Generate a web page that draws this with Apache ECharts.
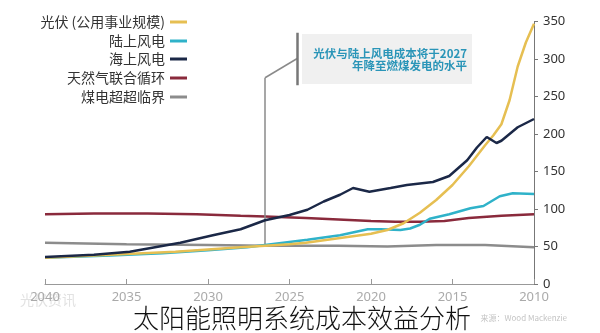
<!DOCTYPE html>
<html>
<head>
<meta charset="utf-8">
<script src="https://cdn.jsdelivr.net/npm/echarts@6/dist/echarts.min.js"></script>
<style>html,body{margin:0;padding:0;background:#fff;}#c{width:600px;height:333px;}</style>
</head>
<body>
<div id="c"></div>
<script>
// ---- data ----
const seriesNames = ['光伏 (公用事业规模)', '陆上风电', '海上风电', '天然气联合循环', '煤电超超临界'];
const xTicks = [2010, 2015, 2020, 2025, 2030, 2035, 2040];
const yTicks = [0, 50, 100, 150, 200, 250, 300, 350];

const solarYears  = [2010, 2010.5, 2011, 2011.5, 2012, 2012.5, 2013, 2014, 2015, 2016, 2017, 2018, 2019, 2020, 2021, 2022, 2023, 2024, 2025, 2026.5, 2028, 2030, 2032, 2034, 2036, 2038, 2040];
const solarValues = [347, 322, 290, 245, 213, 198, 185, 157, 132, 112, 95, 81, 72, 67, 64, 61, 58, 55, 53, 51, 49, 46, 43, 41, 39, 37, 35];

const onshoreYears  = [2010, 2011.3, 2012.1, 2013.1, 2013.9, 2015.2, 2016.4, 2017, 2017.6, 2018.2, 2019.4, 2020.2, 2021.9, 2023.9, 2026.5, 2027.6, 2030, 2032.8, 2036, 2040];
const onshoreValues = [120, 121, 117, 104, 101, 93, 87, 79, 74, 72, 73, 73, 65, 59, 52, 49, 45, 41, 38, 35];

const offshoreYears  = [2010, 2011, 2012, 2012.3, 2012.9, 2013.5, 2014.1, 2015.2, 2016.2, 2017.8, 2018.8, 2020.1, 2021.1, 2021.9, 2022.9, 2023.9, 2025, 2026.5, 2028, 2029.7, 2031.7, 2034.8, 2037, 2040];
const offshoreValues = [220, 209, 191, 188, 196, 182, 165, 144, 136, 132, 128, 123, 128, 119, 110, 99, 92, 85, 73, 65, 55, 43, 39, 36];

const gasYears  = [2010, 2012, 2014, 2015.5, 2017, 2018.5, 2020, 2022, 2024, 2026.5, 2028, 2030.7, 2033.7, 2037, 2040];
const gasValues = [93, 91, 88, 84, 83, 83, 84, 86, 88, 90, 91, 93, 94, 94, 93];

const coalYears  = [2010, 2011, 2013, 2016, 2019, 2022, 2026.5, 2030, 2035, 2040];
const coalValues = [49, 50, 52, 52, 50, 51, 51, 52, 53, 55];

const annotationText = ['光伏与陆上风电成本将于2027', '年降至燃煤发电的水平'];
const caption = '太阳能照明系统成本效益分析';
const sourceText = '来源：Wood Mackenzie';

// ---- build ----
const colors = ['#e6bf52', '#2fb2c9', '#1b2847', '#8a2a3c', '#8c8c8c'];
const pairs = (xs, ys) => xs.map((x, i) => [x, ys[i]]);
const dataSets = [
  pairs(solarYears, solarValues),
  pairs(onshoreYears, onshoreValues),
  pairs(offshoreYears, offshoreValues),
  pairs(gasYears, gasValues),
  pairs(coalYears, coalValues)
];
const drawOrder = [4, 3, 1, 0, 2];

const series = drawOrder.map(i => ({
  name: seriesNames[i],
  type: 'line',
  data: dataSets[i],
  showSymbol: false,
  symbol: 'none',
  lineStyle: { width: 2.5, color: colors[i] },
  itemStyle: { color: colors[i] },
  z: 3 + drawOrder.indexOf(i),
  animation: false
}));

series.push({
  type: 'line',
  data: [],
  silent: true,
  markLine: {
    silent: true,
    symbol: 'none',
    label: { show: false },
    animation: false,
    data: [
      [{ coord: [2026.5, 51], lineStyle: { color: '#8a8a8a', width: 1.5, type: 'solid' } }, { coord: [2026.5, 275] }],
      [{ coord: [2026.5, 275], lineStyle: { color: '#8a8a8a', width: 1.5, type: 'solid' } }, { coord: [2024.5, 301] }],
      [{ coord: [2024.5, 335], lineStyle: { color: '#777', width: 2.5, type: 'solid' } }, { coord: [2024.5, 265] }]
    ]
  }
});

const legendTops = [15, 34, 52, 71, 90];
const legends = seriesNames.map((n, i) => ({
  data: [n],
  right: 413,
  top: legendTops[i],
  padding: 0,
  align: 'right',
  icon: 'rect',
  itemWidth: 17,
  itemHeight: 3,
  selectedMode: false,
  textStyle: { fontSize: 14, color: '#333', fontFamily: 'Noto Sans CJK SC' }
}));

const chart = echarts.init(document.getElementById('c'), null, { renderer: 'canvas' });
chart.setOption({
  animation: false,
  color: colors,
  legend: legends,
  grid: { left: 45, right: 66, top: 21.5, bottom: 49, containLabel: false },
  xAxis: {
    type: 'value',
    min: xTicks[0],
    max: xTicks[xTicks.length - 1],
    interval: 5,
    inverse: true,
    axisLine: { show: true, lineStyle: { color: '#999', width: 1 } },
    axisTick: { show: true, inside: true, length: 5, lineStyle: { color: '#999' } },
    axisLabel: { color: '#aaa', fontSize: 13, margin: 7, fontFamily: 'Noto Sans', formatter: v => String(v) },
    splitLine: { show: false }
  },
  yAxis: {
    type: 'value',
    position: 'right',
    min: yTicks[0],
    max: yTicks[yTicks.length - 1],
    interval: 50,
    axisLine: { show: true, lineStyle: { color: '#777', width: 1 } },
    axisTick: { show: true, length: 4, lineStyle: { color: '#777' } },
    axisLabel: { color: '#333', fontSize: 13, margin: 9, fontFamily: 'Noto Sans' },
    splitLine: { show: false }
  },
  series: series,
  graphic: [
    { type: 'rect', shape: { x: 302, y: 34, width: 170, height: 50 }, style: { fill: '#f0f0f0' }, z: 1 },
    { type: 'text', x: 467, y: 47, style: { text: annotationText.join('\n'), align: 'right', lineHeight: 12.5, fill: '#2a95b8', font: 'bold 11.5px "Noto Sans CJK SC"' }, z: 2 },
    { type: 'text', x: 302, y: 318, style: { text: caption, align: 'center', verticalAlign: 'middle', fill: '#111', font: '300 26px "Noto Sans CJK SC"' }, z: 10 },
    { type: 'text', x: 567, y: 318, style: { text: sourceText, align: 'right', verticalAlign: 'middle', fill: '#c4c4c4', font: '8px "Noto Sans CJK SC"' }, z: 9 },
    { type: 'text', x: 20, y: 300, style: { text: '光伏资讯', align: 'left', verticalAlign: 'middle', fill: '#e2e2e2', font: '14px "Noto Sans CJK SC"' }, z: 0 }
  ]
});
</script>
</body>
</html>
